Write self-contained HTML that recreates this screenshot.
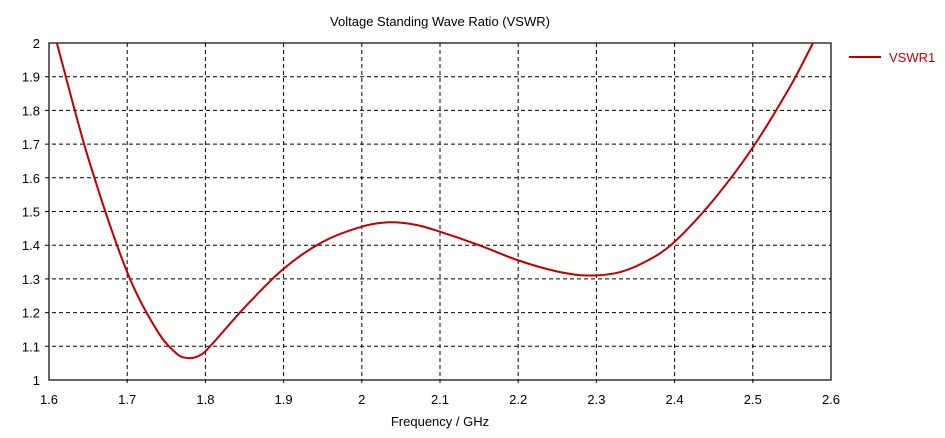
<!DOCTYPE html><html><head><style>body{margin:0;background:#fff}svg{font-family:"Liberation Sans","DejaVu Sans",sans-serif}</style></head><body>
<svg id="s" width="945" height="433" xmlns="http://www.w3.org/2000/svg">
<rect width="945" height="433" fill="#fff"/>
<text x="440" y="26" font-size="13" text-anchor="middle" fill="#000">Voltage Standing Wave Ratio (VSWR)</text>
<g id="g"></g>
<rect x="49" y="43" width="782" height="337" fill="none" stroke="#000" stroke-width="1.2"/>
<path id="c" fill="none" stroke="#c00000" stroke-width="2"/>
<line x1="849" y1="57" x2="881" y2="57" stroke="#c00000" stroke-width="2"/>
<text x="889" y="62" font-size="13" fill="#c00000">VSWR1</text>
<text x="440" y="426" font-size="13" text-anchor="middle" fill="#000">Frequency / GHz</text>
</svg>
<script>
const X=f=>49+(f-1.6)*782,Y=v=>380-(v-1)*337;
let g='';
for(let i=0;i<=10;i++){const x=49+i*78.2,f=(1.6+i*0.1);
 if(i>0&&i<10)g+=`<line x1="${x}" y1="43" x2="${x}" y2="384" stroke="#000" stroke-dasharray="4,3"/>`;
 g+=`<text x="${x}" y="404" font-size="13" text-anchor="middle">${+f.toFixed(1)}</text>`;}
for(let i=0;i<=10;i++){const y=380-i*33.7,v=1+i*0.1;
 if(i>0&&i<10)g+=`<line x1="45" y1="${y}" x2="831" y2="${y}" stroke="#000" stroke-dasharray="4,3"/>`;
 g+=`<text x="40" y="${y+5}" font-size="13" text-anchor="end">${+v.toFixed(1)}</text>`;}
document.getElementById('g').innerHTML=g;
const P=[[1.61,2.0],[1.65,1.66],[1.7,1.32],[1.74,1.14],[1.765,1.075],[1.778,1.065],[1.79,1.07],[1.8,1.085],[1.85,1.215],[1.9,1.33],[1.95,1.41],[2.0,1.455],[2.035,1.468],[2.07,1.46],[2.1,1.44],[2.15,1.40],[2.2,1.355],[2.25,1.322],[2.288,1.31],[2.33,1.32],[2.37,1.36],[2.4,1.41],[2.45,1.535],[2.5,1.69],[2.55,1.88],[2.577,2.0]].map(p=>[X(p[0]),Y(p[1])]);
let d=`M${P[0][0]},${P[0][1]}`;
for(let i=0;i<P.length-1;i++){const p0=P[i-1]||P[i],p1=P[i],p2=P[i+1],p3=P[i+2]||p2;
 const t1=[(p2[0]-p0[0]),(p2[1]-p0[1])],t2=[(p3[0]-p1[0]),(p3[1]-p1[1])];
 const k=(p2[0]-p1[0]);
 const s1=k/(t1[0]||1)/3,s2=k/(t2[0]||1)/3;
 d+=`C${p1[0]+t1[0]*s1},${p1[1]+t1[1]*s1} ${p2[0]-t2[0]*s2},${p2[1]-t2[1]*s2} ${p2[0]},${p2[1]}`;}
document.getElementById('c').setAttribute('d',d);
</script></body></html>
